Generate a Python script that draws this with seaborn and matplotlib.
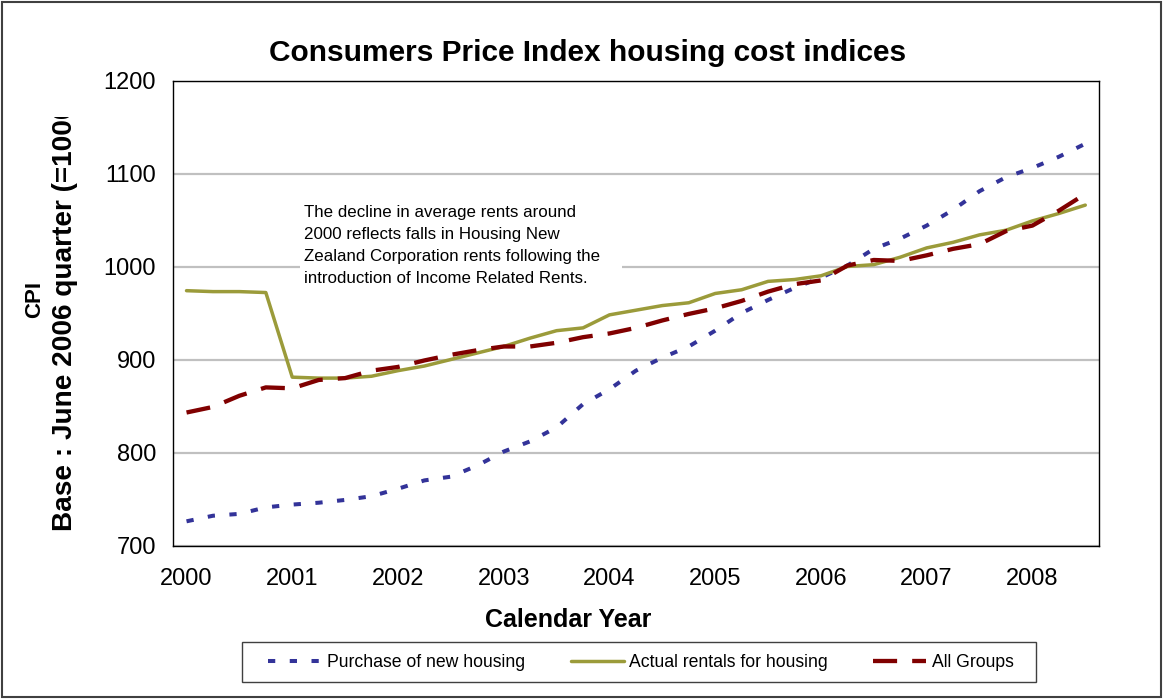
import numpy as np
import pandas as pd
import matplotlib
matplotlib.use("Agg")
import matplotlib.pyplot as plt
from matplotlib.patches import Rectangle
from matplotlib.transforms import Bbox
import seaborn as sns

# ---------------- data ----------------
quarters = pd.period_range("2000Q1", "2008Q3", freq="Q")
purchase_new = [726, 732, 734, 741, 744, 746, 749, 753, 761, 770, 774, 786,
                801, 812, 827, 852, 868, 888, 902, 914, 931, 950, 964, 977,
                988, 1001, 1019, 1030, 1044, 1061, 1081, 1096, 1106, 1118, 1132]
actual_rentals = [974, 973, 973, 972, 881, 880, 880, 882, 888, 893, 900, 907,
                  914, 923, 931, 934, 948, 953, 958, 961, 971, 975, 984, 986,
                  990, 1000, 1002, 1010, 1020, 1026, 1034, 1039, 1049, 1057, 1066]
all_groups = [843, 849, 861, 870, 869, 878, 880, 888, 892, 899, 905, 910,
              914, 914, 918, 924, 928, 934, 942, 949, 955, 963, 973, 981,
              985, 1001, 1007, 1006, 1012, 1019, 1024, 1038, 1044, 1060, 1078]
series_names = ["Purchase of new housing", "Actual rentals for housing", "All Groups"]
year_ticks = list(range(2000, 2009))
y_ticks = [700, 800, 900, 1000, 1100, 1200]

title = "Consumers Price Index housing cost indices"
xlabel = "Calendar Year"
ylabel1 = "CPI"
ylabel2 = "Base : June 2006 quarter (=1000)"
note = ("The decline in average rents around\n"
        "2000 reflects falls in Housing New\n"
        "Zealand Corporation rents following the\n"
        "introduction of Income Related Rents.")

# quarter mid-points on a decimal year axis
xq = np.array([q.year + (q.quarter - 0.5) / 4 for q in quarters])
df = pd.DataFrame({"x": xq,
                   series_names[0]: purchase_new,
                   series_names[1]: actual_rentals,
                   series_names[2]: all_groups})

# ---------------- style ----------------
sns.set_style("white")
plt.rcParams["font.family"] = ["Liberation Sans", "DejaVu Sans"]
plt.rcParams["text.color"] = "black"
plt.rcParams["axes.labelcolor"] = "black"
plt.rcParams["xtick.color"] = "black"
plt.rcParams["ytick.color"] = "black"

W, H = 1163, 699
fig = plt.figure(figsize=(W / 100, H / 100), dpi=100)

def fx(px):
    return px / W

def fy(py):
    return 1 - py / H

ax_l, ax_r, ax_t, ax_b = 173.3, 1098.5, 80.5, 545.5
ax = fig.add_axes([fx(ax_l), fy(ax_b), fx(ax_r - ax_l), (ax_b - ax_t) / H])

colors = ["#333399", "#9B9B3A", "#800000"]
styles = [dict(lw=2.9, dashes=(1.8, 3.6)),
          dict(lw=2.5),
          dict(lw=3.1, dashes=(5.6, 3.5))]

for name, c, st in zip(series_names, colors, styles):
    sns.lineplot(data=df, x="x", y=name, ax=ax, color=c,
                 linewidth=st["lw"], label=name)
    ln = ax.lines[-1]
    if "dashes" in st:
        ln.set_dashes(st["dashes"])
    ln.set_dash_capstyle("butt")
    ln.set_solid_joinstyle("round")

ax.set_xlim(2000, 2008.75)
ax.set_ylim(700, 1200)
# tick marks at year boundaries, labels at the first quarter of each year
ax.set_xticks(year_ticks)
ax.set_xticklabels([])
ax.set_xticks([y + 0.125 for y in year_ticks], minor=True)
ax.set_xticklabels([str(y) for y in year_ticks], minor=True)
ax.set_yticks(y_ticks)
ax.set_xlabel("")
ax.set_ylabel("")
ax.set_axisbelow(True)
ax.yaxis.grid(True, color="#C0C0C0", linewidth=1.6)
ax.xaxis.grid(False)
for s in ax.spines.values():
    s.set_visible(True)
    s.set_color("black")
    s.set_linewidth(1.0)
ax.tick_params(axis="both", which="major", direction="out", length=5.5,
               width=1, color="black", labelsize=17, labelcolor="black")
ax.tick_params(axis="x", which="minor", length=0, labelsize=17,
               labelcolor="black", pad=5.5 + 10.5)
ax.tick_params(axis="y", pad=7)
ax.set_facecolor("white")

# annotation box (white background hiding the gridline)
ax.add_patch(Rectangle(((300 - ax_l) / (ax_r - ax_l), (ax_b - 292) / (ax_b - ax_t)),
                       (622 - 300) / (ax_r - ax_l), (292 - 195) / (ax_b - ax_t),
                       transform=ax.transAxes, facecolor="white",
                       edgecolor="none", zorder=1.5))
ax.text((304 - ax_l) / (ax_r - ax_l), (ax_b - 205) / (ax_b - ax_t), note,
        transform=ax.transAxes, ha="left", va="top", fontsize=12.2,
        linespacing=1.58, color="black", zorder=3)

# titles
fig.text(fx(588), fy(61), title, ha="center", va="baseline",
         fontsize=21.5, fontweight="bold")
fig.text(fx(568), fy(627), xlabel, ha="center", va="baseline",
         fontsize=18, fontweight="bold")
fig.text(fx(34.5), fy(299.5), ylabel1, ha="center", va="center", rotation=90,
         fontsize=16, fontweight="bold")
t2 = fig.text(fx(65.5), fy(531), ylabel2, ha="center", va="bottom", rotation=90,
              fontsize=20.2, fontweight="bold")
t2.set_clip_box(Bbox.from_extents(0, 0, W, H - 117))
t2.set_clip_on(True)

# legend
handles, labels = ax.get_legend_handles_labels()
if ax.legend_:
    ax.legend_.remove()
fig.legend(handles, labels, loc="center", ncol=3,
           bbox_to_anchor=(fx(641), fy(662.5)), frameon=False,
           fontsize=12.7, handlelength=3.0, handletextpad=0.3,
           columnspacing=2.6)
fig.patches.append(Rectangle((fx(242), fy(682)), fx(1036 - 242), (682 - 642) / H,
                             transform=fig.transFigure, facecolor="none",
                             edgecolor="#404040", linewidth=1.0))
# outer chart border
fig.patches.append(Rectangle((fx(2), fy(697)), fx(1159), (697 - 1.5) / H,
                             transform=fig.transFigure, facecolor="none",
                             edgecolor="#404040", linewidth=1.5))

fig.savefig("out.png", dpi=100, facecolor="white")
